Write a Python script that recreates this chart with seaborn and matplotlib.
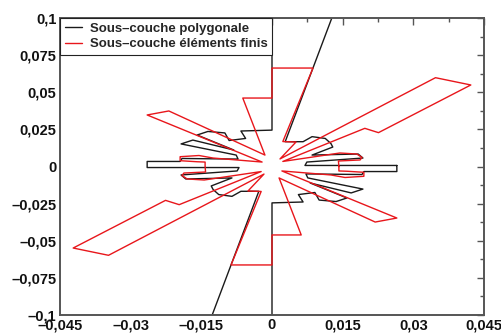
import matplotlib
matplotlib.use("Agg")
import matplotlib.pyplot as plt
import seaborn as sns
import pandas as pd
import numpy as np
from matplotlib.ticker import FixedLocator, MultipleLocator

# ---- data ----
series_names = ["Sous\u2013couche polygonale", "Sous\u2013couche \u00e9l\u00e9ments finis"]

black_x = [0.0265, 0.0070, 0.0074, 0.0193, 0.0183, 0.0085, 0.0129, 0.0125, 0.0113, 0.0085,
           0.0066, 0.0028, 0.0127, 0.0, 0.0, -0.0066, -0.0056, -0.0091, -0.0100, -0.0136,
           -0.0159, -0.0081, -0.0168, -0.0193, -0.0076, -0.0072, -0.0191, -0.0195, -0.0265,
           -0.0265, -0.0070, -0.0074, -0.0193, -0.0183, -0.0085, -0.0129, -0.0125, -0.0113, -0.0085,
           -0.0066, -0.0028, -0.0127, 0.0, 0.0, 0.0066, 0.0056, 0.0091, 0.0100, 0.0136,
           0.0159, 0.0081, 0.0168, 0.0193, 0.0076, 0.0072, 0.0191, 0.0195, 0.0265]
black_y = [0.0007, 0.0007, 0.0030, 0.0057, 0.0084, 0.0077, 0.0131, 0.0155, 0.0189, 0.0201,
           0.0167, 0.0167, 0.1, 0.1, 0.0245, 0.0239, 0.0189, 0.0175, 0.0226, 0.0236,
           0.0212, 0.0111, 0.0178, 0.0152, 0.0077, 0.0050, 0.0054, 0.0034, 0.0034,
           -0.0007, -0.0007, -0.0030, -0.0057, -0.0084, -0.0077, -0.0131, -0.0155, -0.0189, -0.0201,
           -0.0167, -0.0167, -0.1, -0.1, -0.0245, -0.0239, -0.0189, -0.0175, -0.0226, -0.0236,
           -0.0212, -0.0111, -0.0178, -0.0152, -0.0077, -0.0050, -0.0054, -0.0034, -0.0034]

red_x = [0.0142, 0.0141, 0.0187, 0.0191, 0.0180, 0.0144, 0.0023, 0.0197, 0.0226, 0.0422,
         0.0347, 0.0017, 0.0051, 0.0023, 0.0087, 0.0, 0.0, -0.0062, -0.0015, -0.0219,
         -0.0265, -0.0021, -0.0125, -0.0155, -0.0195, -0.0195, -0.0159, -0.0142,
         -0.0142, -0.0141, -0.0187, -0.0191, -0.0180, -0.0144, -0.0023, -0.0197, -0.0226, -0.0422,
         -0.0347, -0.0017, -0.0051, -0.0023, -0.0087, 0.0, 0.0, 0.0062, 0.0015, 0.0219,
         0.0265, 0.0021, 0.0125, 0.0155, 0.0195, 0.0195, 0.0159, 0.0142]
red_y = [0.0, 0.0037, 0.0044, 0.0061, 0.0084, 0.0091, 0.0034, 0.0257, 0.0228, 0.0549,
         0.0598, 0.0051, 0.0165, 0.0168, 0.0663, 0.0663, 0.0461, 0.0461, 0.0077, 0.0374,
         0.0347, 0.0030, 0.0057, 0.0074, 0.0066, 0.0039, 0.0032, 0.0030,
         0.0, -0.0037, -0.0044, -0.0061, -0.0084, -0.0091, -0.0034, -0.0257, -0.0228, -0.0549,
         -0.0598, -0.0051, -0.0165, -0.0168, -0.0663, -0.0663, -0.0461, -0.0461, -0.0077, -0.0374,
         -0.0347, -0.0030, -0.0057, -0.0074, -0.0066, -0.0039, -0.0032, -0.0030]

x_ticks = [-0.045, -0.03, -0.015, 0.0, 0.015, 0.03, 0.045]
x_tick_labels = ["\u20130,045", "\u20130,03", "\u20130,015", "0", "0,015", "0,03", "0,045"]
y_ticks = [-0.1, -0.075, -0.05, -0.025, 0.0, 0.025, 0.05, 0.075, 0.1]
y_tick_labels = ["\u20130,1", "\u20130,075", "\u20130,05", "\u20130,025", "0", "0,025", "0,05", "0,075", "0,1"]

# ---- build table (closed paths) ----
rows = []
for name, xs, ys in [(series_names[0], black_x, black_y), (series_names[1], red_x, red_y)]:
    xs_c = list(xs) + [xs[0]]
    ys_c = list(ys) + [ys[0]]
    for i, (a, b) in enumerate(zip(xs_c, ys_c)):
        rows.append({"x": a, "y": b, "serie": name, "ordre": i})
df = pd.DataFrame(rows)

sns.set_theme(style="white")
plt.rcParams["font.family"] = ["Liberation Sans", "DejaVu Sans"]
plt.rcParams["font.weight"] = "bold"

fig = plt.figure(figsize=(5.02, 3.35), dpi=100)
ax = fig.add_axes([60 / 502, 1 - 315 / 335, 424 / 502, 297 / 335])

sns.lineplot(data=df, x="x", y="y", hue="serie", sort=False, estimator=None,
             units="serie", palette=["#1a1a1a", "#e8161b"], linewidth=1.0, ax=ax,
             legend=True)

ax.set_xlim(-0.045, 0.045)
ax.set_ylim(-0.1, 0.1)
ax.set_xlabel("")
ax.set_ylabel("")

ax.xaxis.set_major_locator(FixedLocator(x_ticks))
ax.set_xticklabels(x_tick_labels, fontsize=10.5, fontweight="bold")
ax.yaxis.set_major_locator(FixedLocator(y_ticks))
ax.set_yticklabels(y_tick_labels, fontsize=10.5, fontweight="bold")
ax.xaxis.set_minor_locator(MultipleLocator(0.0075))
ax.yaxis.set_minor_locator(MultipleLocator(0.0125))

ax.tick_params(which="both", direction="in", top=True, right=True, color="#555555",
               width=1.0, labelcolor="#111111")
ax.tick_params(which="major", length=5, pad=2.5)
ax.tick_params(which="minor", length=3)

for s in ax.spines.values():
    s.set_color("#555555")
    s.set_linewidth(1.4)

leg = ax.legend(loc="upper left", frameon=True, fancybox=False, borderaxespad=0.0,
                prop={"size": 9.5, "weight": "bold"}, handlelength=1.3,
                handletextpad=0.6, borderpad=0.35, labelspacing=0.25)
leg.get_frame().set_edgecolor("#222222")
leg.get_frame().set_linewidth(0.8)
leg.get_frame().set_alpha(1)
for h in leg.get_lines():
    h.set_linewidth(1.0)

fig.savefig("out.png", dpi=100)
